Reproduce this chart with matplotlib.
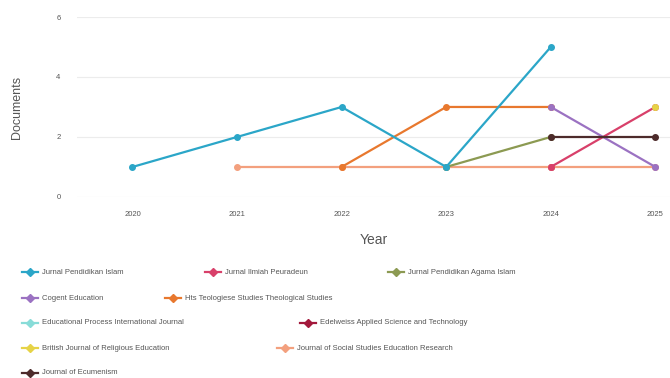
import numpy as np
import matplotlib.pyplot as plt
from matplotlib.lines import Line2D

plt.rcParams['font.family'] = ['Liberation Sans', 'DejaVu Sans']

years = [2020, 2021, 2022, 2023, 2024, 2025]

# documents per year for each source (None = no documents that year)
pend_islam = [1, 2, 3, 1, 5, None]
ilmiah_peuradeun = [None, None, None, None, 1, 3]
pend_agama_islam = [None, None, None, 1, 2, None]
cogent_edu = [None, None, None, None, 3, 1]
hts_theol = [None, None, 1, 3, 3, None]
edu_process = [None, None, None, 1, None, None]
edelweiss = [None, None, None, None, 1, None]
british_rel_edu = [None, None, None, None, None, 3]
social_studies = [None, 1, 1, 1, 1, 1]
ecumenism = [None, None, None, None, 2, 2]

names = [
    "Jurnal Pendidikan Islam",
    "Jurnal Ilmiah Peuradeun",
    "Jurnal Pendidikan Agama Islam",
    "Cogent Education",
    "Hts Teologiese Studies Theological Studies",
    "Educational Process International Journal",
    "Edelweiss Applied Science and Technology",
    "British Journal of Religious Education",
    "Journal of Social Studies Education Research",
    "Journal of Ecumenism",
]
series = [pend_islam, ilmiah_peuradeun, pend_agama_islam, cogent_edu, hts_theol,
          edu_process, edelweiss, british_rel_edu, social_studies, ecumenism]
colors = ["#2ba6c8", "#d8406a", "#8c9a52", "#9b72c2", "#e8782e",
          "#88dcd8", "#a3193c", "#e6d347", "#f3a07e", "#4d2b2b"]

# drawing order: faint ones first so the visible lines sit on top
draw_order = [5, 6, 8, 2, 4, 3, 1, 9, 7, 0]

fig = plt.figure(figsize=(6.7, 3.78), dpi=100)
ax = fig.add_axes([0.115, 0.479, 0.885, 0.476])

for i in draw_order:
    vals = np.array([np.nan if v is None else v for v in series[i]], dtype=float)
    ax.plot(years, vals, color=colors[i], lw=1.6, marker="o", ms=4,
            clip_on=False, zorder=3 + draw_order.index(i))

ax.set_xlim(2019.47, 2025.14)
ax.set_ylim(0, 6)
ax.set_yticks([0, 2, 4, 6])
ax.set_xticks(years)
ax.grid(axis="y", color="#ececec", lw=0.8)
ax.set_axisbelow(True)
for s in ax.spines.values():
    s.set_visible(False)
ax.tick_params(length=0, labelsize=5.5, labelcolor="#555555")
ax.tick_params(axis="x", pad=10)
ax.tick_params(axis="y", pad=12)
ax.set_xlabel("Year", fontsize=10, color="#555555", labelpad=11)
ax.set_ylabel("Documents", fontsize=9, color="#555555", labelpad=24)

# legend laid out in rows of varying width
legend_pos = [
    (22, 272), (205, 272), (388, 272),
    (22, 298), (165, 298),
    (22, 323), (300, 323),
    (22, 348), (277, 348),
    (22, 373),
]
W, H = 670, 378
for i, (px, py) in enumerate(legend_pos):
    x0 = px / W
    y0 = 1 - py / H
    fig.add_artist(Line2D([x0, x0 + 16 / W], [y0, y0], color=colors[i], lw=1.6,
                          transform=fig.transFigure))
    fig.add_artist(Line2D([x0 + 8 / W], [y0], color=colors[i], marker="D", ms=4,
                          transform=fig.transFigure))
    fig.text(x0 + 20 / W, y0, names[i], fontsize=5.5, color="#555555", va="center")

fig.savefig("out.png", dpi=100)
